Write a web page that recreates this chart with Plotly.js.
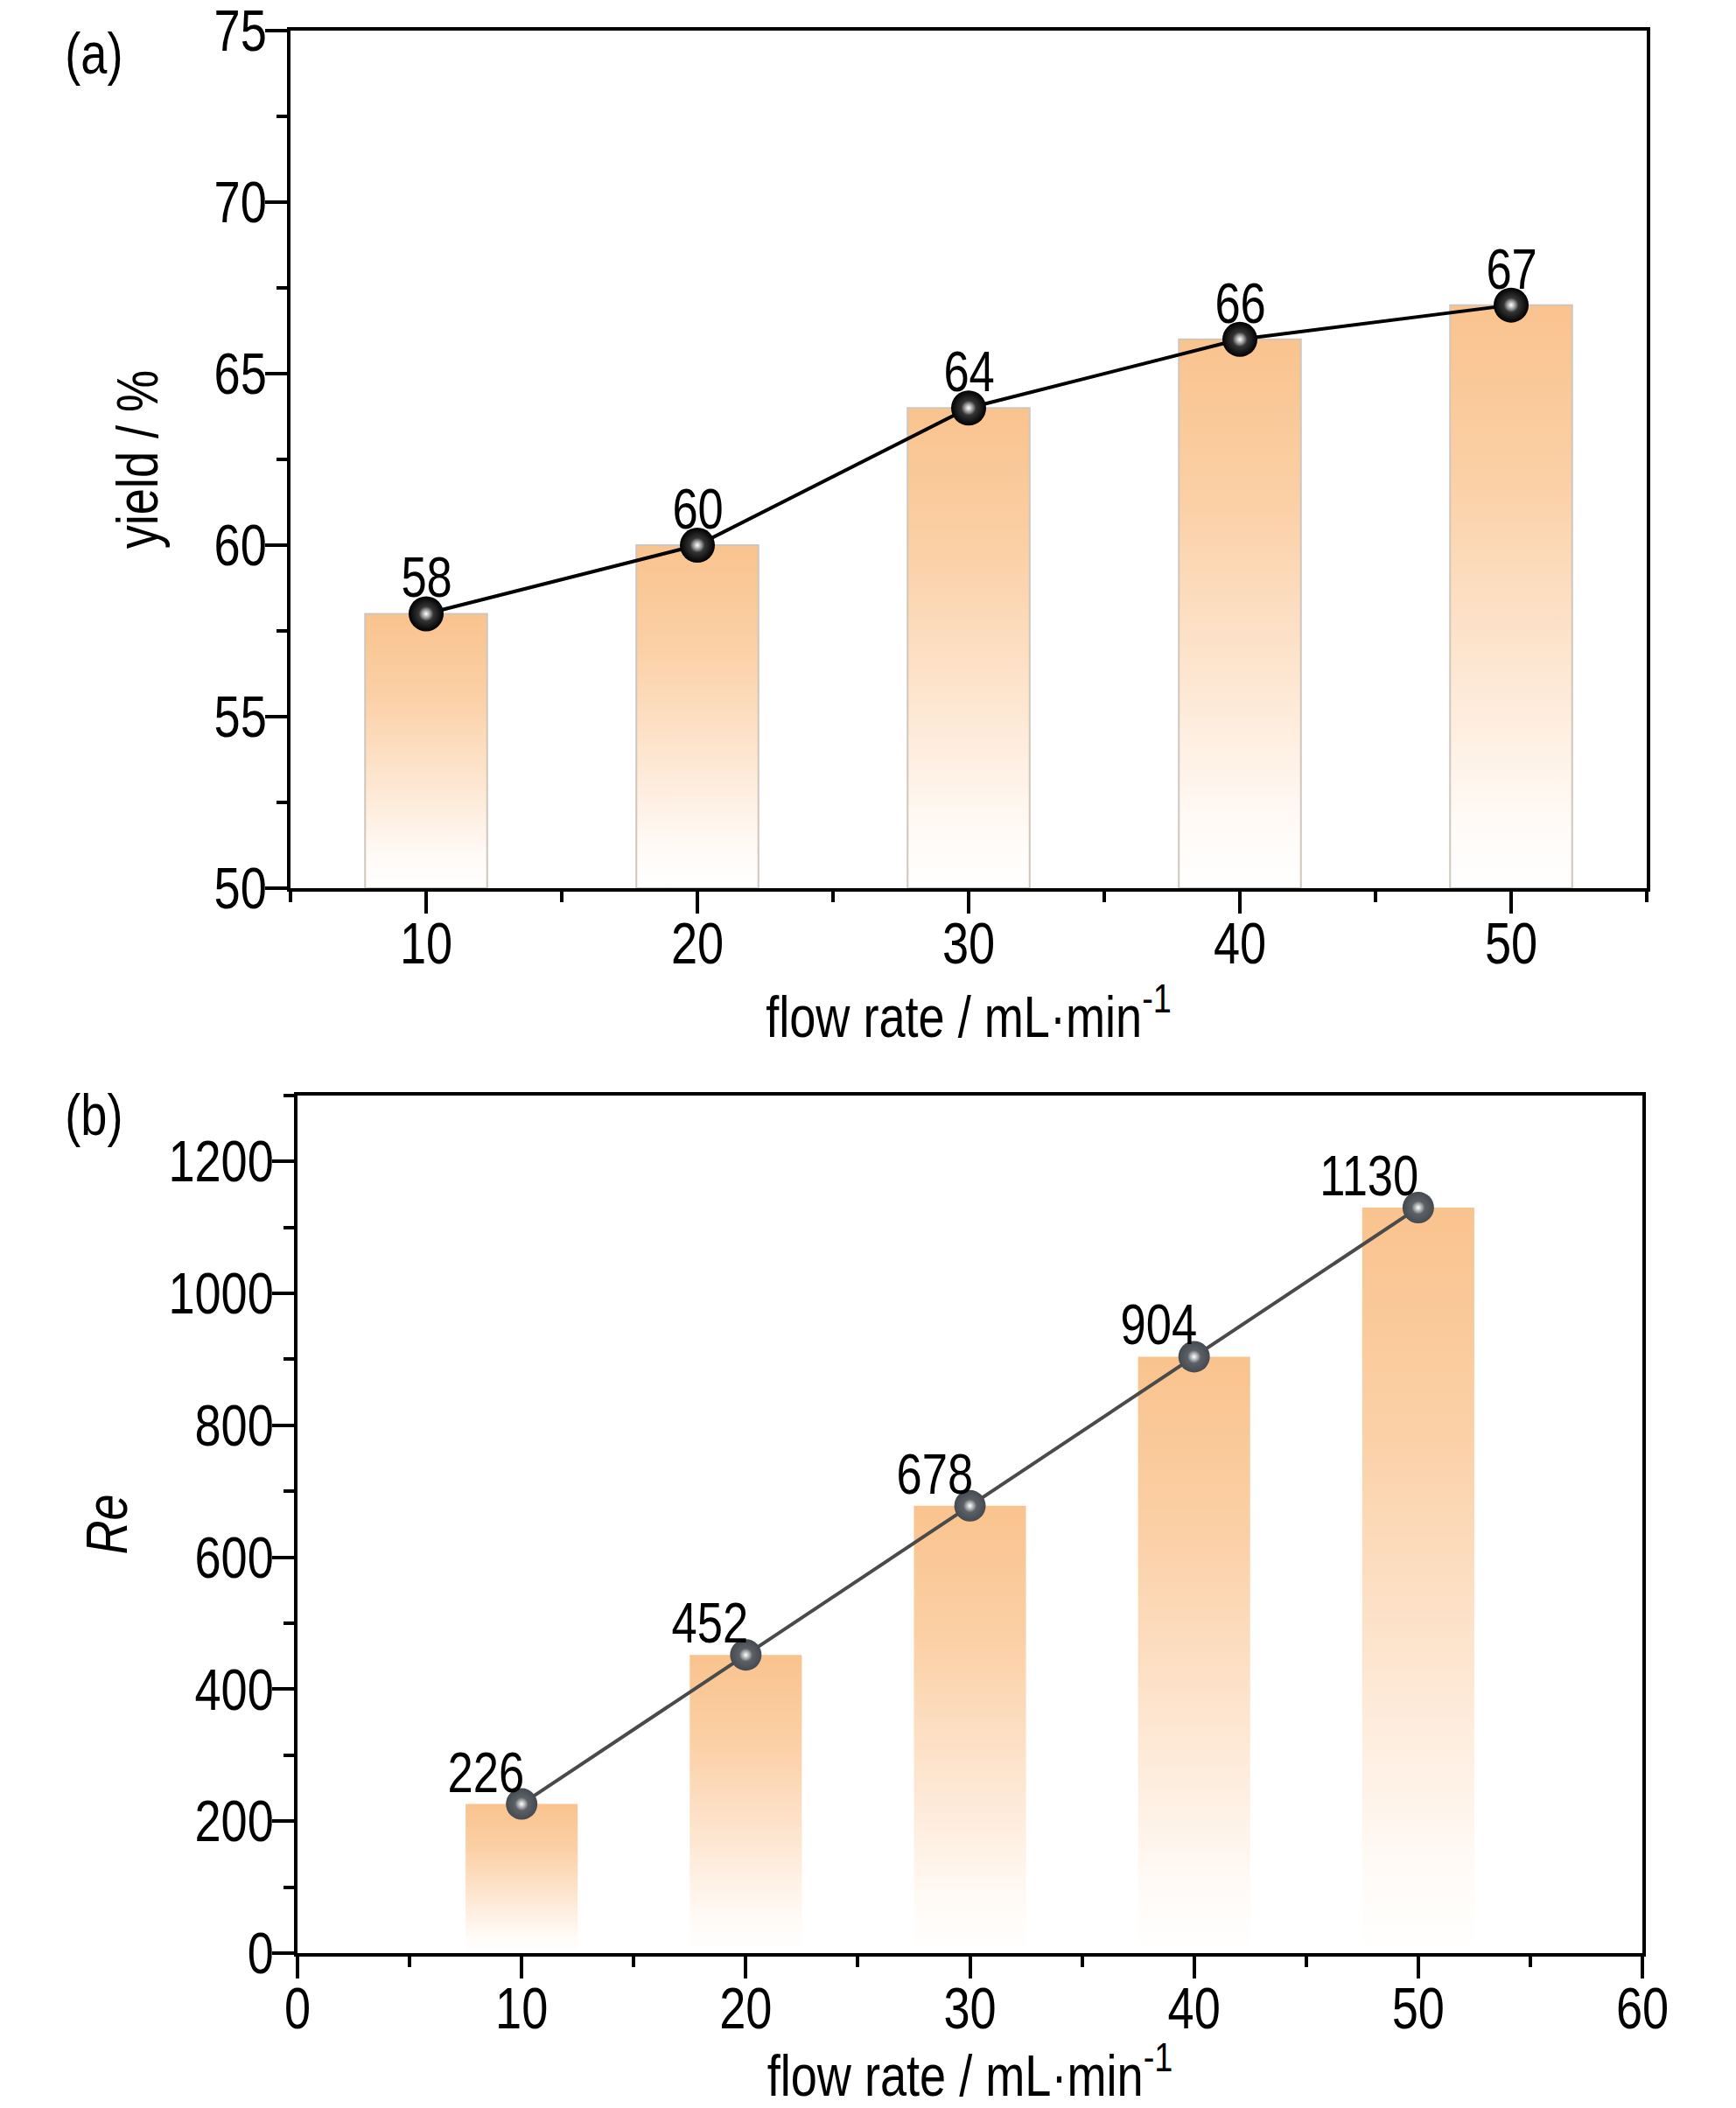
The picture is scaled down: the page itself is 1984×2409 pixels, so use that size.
<!DOCTYPE html>
<html>
<head>
<meta charset="utf-8">
<script src="https://cdn.plot.ly/plotly-3.0.1.min.js"></script>
<style>
  html, body { margin: 0; padding: 0; background: #fff; }
  #myPlot { width: 1984px; height: 2409px; }
</style>
</head>
<body>
<div id="myPlot"></div>
<script>
// data
var flowRate = [10, 20, 30, 40, 50];
var yieldPct = [58, 60, 64, 66, 67];
var reynolds = [226, 452, 678, 904, 1130];

var FONT = 'Liberation Sans Narrow, Arial Narrow, Liberation Sans, Arial, sans-serif';
var NARROW = 0.82;   // no narrow face installed, so squeeze the glyphs afterwards

// orange fade, 0 = bottom of bar, 1 = top of bar
var barScale = [
  [0, '#ffffff'],
  [0.12, '#fffaf6'],
  [0.4, '#fde5cf'],
  [0.7, '#fbd0a6'],
  [1, '#f9c38e']
];

function barTraces(xs, ys, base, width, xa, ya, outline){
  var out = [];
  for(var i = 0; i < xs.length; i++){
    var x0 = xs[i] - width / 2, x1 = xs[i] + width / 2;
    out.push({
      x: [x0, x1, x1, x0, x0],
      y: [base, base, ys[i], ys[i], base],
      xaxis: xa, yaxis: ya,
      type: 'scatter',
      mode: 'lines',
      fill: 'toself',
      fillgradient: {type: 'vertical', colorscale: barScale},
      line: {color: outline || 'rgba(0,0,0,0)', width: outline ? 2 : 0},
      hoverinfo: 'skip'
    });
  }
  return out;
}

function ballTraces(xs, ys, xa, ya, lineColor, ballColor, shade, size){
  return [
    {
      x: xs, y: ys, xaxis: xa, yaxis: ya,
      type: 'scatter', mode: 'lines+markers',
      line: {color: lineColor, width: 4},
      marker: {size: size, color: ballColor,
               gradient: {type: 'radial', color: shade},
               line: {width: 0}}
    },
    {
      x: xs, y: ys, xaxis: xa, yaxis: ya,
      type: 'scatter', mode: 'markers',
      marker: {size: size * 0.42, color: 'rgba(255,255,255,0)',
               gradient: {type: 'radial', color: '#ffffff'},
               line: {width: 0}}
    }
  ];
}

var traces = []
  .concat(barTraces(flowRate, yieldPct, 50, 4.5, 'x', 'y', '#cfc6bd'))
  .concat(barTraces(flowRate, reynolds, 0, 5, 'x2', 'y2', null))
  .concat(ballTraces(flowRate, yieldPct, 'x', 'y', '#000000', '#000000', '#5a5a5a', 40))
  .concat(ballTraces(flowRate, reynolds, 'x2', 'y2', '#4a4a4a', '#454a50', '#6d7176', 36));

var annotations = [];
for(var i = 0; i < flowRate.length; i++){
  annotations.push({
    x: flowRate[i], y: yieldPct[i], xref: 'x', yref: 'y',
    text: String(yieldPct[i]), showarrow: false,
    xanchor: 'center', yanchor: 'bottom', yshift: 3,
    font: {family: FONT, size: 64, color: '#000'}
  });
  annotations.push({
    x: flowRate[i], y: reynolds[i], xref: 'x2', yref: 'y2',
    text: String(reynolds[i]), showarrow: false,
    xanchor: 'right', yanchor: 'bottom', xshift: 15, yshift: -2,
    font: {family: FONT, size: 64, color: '#000'}
  });
}
annotations.push({
  x: -0.172, y: 1.006, xref: 'paper', yref: 'paper',
  text: '(a)', showarrow: false, xanchor: 'left', yanchor: 'top',
  font: {family: FONT, size: 66, color: '#000'}
});
annotations.push({
  x: -0.172, y: 0.454, xref: 'paper', yref: 'paper',
  text: '(b)', showarrow: false, xanchor: 'left', yanchor: 'top',
  font: {family: FONT, size: 66, color: '#000'}
});

function axisStyle(extra){
  var base = {
    showline: true, linecolor: '#000', linewidth: 4, mirror: true,
    ticks: 'outside', ticklen: 25, tickwidth: 4, tickcolor: '#000',
    showgrid: false, zeroline: false,
    tickfont: {family: FONT, size: 66, color: '#000'},
    ticklabeloverflow: 'allow',
    automargin: false
  };
  for(var k in extra) base[k] = extra[k];
  return base;
}

var layout = {
  width: 1984,
  height: 2409,
  margin: {l: 332, r: 102, t: 35, b: 177},
  paper_bgcolor: '#fff',
  plot_bgcolor: '#fff',
  showlegend: false,
  hovermode: false,
  xaxis: axisStyle({
    domain: [0, 1], anchor: 'y', range: [5, 55], tick0: 0, dtick: 10,
    ticklabelstandoff: -22,
    minor: {dtick: 5, ticks: 'outside', ticklen: 12, tickwidth: 4, tickcolor: '#000'},
    title: {text: 'flow rate / mL·min<sup>-1</sup>', standoff: 0,
            font: {family: FONT, size: 66, color: '#000'}}
  }),
  yaxis: axisStyle({
    domain: [0.5539, 1], anchor: 'x', range: [50, 75], dtick: 5,
    ticklabelstandoff: -15,
    minor: {dtick: 2.5, ticks: 'outside', ticklen: 12, tickwidth: 4, tickcolor: '#000'},
    title: {text: 'yield / %', standoff: 30,
            font: {family: FONT, size: 66, color: '#000'}}
  }),
  xaxis2: axisStyle({
    domain: [0.00516, 0.9968], anchor: 'y2', range: [0, 60], tick0: 0, dtick: 10,
    ticklabelstandoff: -22,
    minor: {dtick: 5, ticks: 'outside', ticklen: 12, tickwidth: 4, tickcolor: '#000'},
    title: {text: 'flow rate / mL·min<sup>-1</sup>', standoff: 0,
            font: {family: FONT, size: 66, color: '#000'}}
  }),
  yaxis2: axisStyle({
    domain: [0, 0.4461], anchor: 'x2', range: [0, 1300], dtick: 200,
    ticklabelstandoff: -15,
    minor: {dtick: 100, ticks: 'outside', ticklen: 12, tickwidth: 4, tickcolor: '#000'},
    title: {text: '<i>Re</i>', standoff: 0,
            font: {family: FONT, size: 66, color: '#000'}}
  }),
  annotations: annotations
};

Plotly.newPlot('myPlot', traces, layout, {staticPlot: true}).then(function(gd){
  var texts = gd.querySelectorAll('svg text');
  for(var i = 0; i < texts.length; i++){
    var t = texts[i];
    if(!t.textContent) continue;
    var len = t.getComputedTextLength();
    if(len > 0){
      t.setAttribute('textLength', (len * NARROW).toFixed(1));
      t.setAttribute('lengthAdjust', 'spacingAndGlyphs');
    }
  }
});
</script>
</body>
</html>
